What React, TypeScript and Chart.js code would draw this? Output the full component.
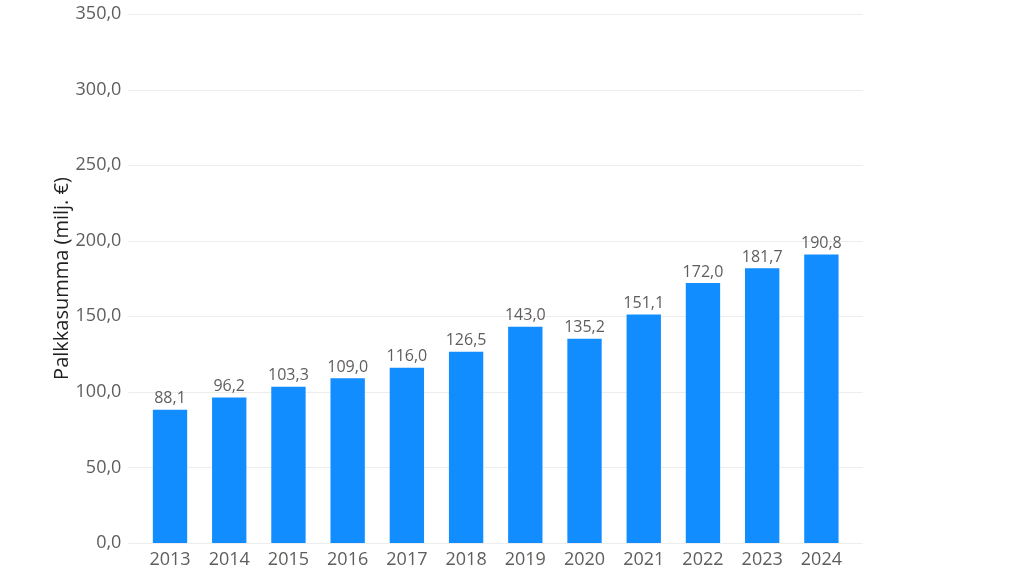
import React, { useEffect, useRef } from "react";
import { Chart, registerables } from "chart.js";

Chart.register(...registerables);

const years = ["2013", "2014", "2015", "2016", "2017", "2018", "2019", "2020", "2021", "2022", "2023", "2024"];
const payroll = [88.1, 96.2, 103.3, 109.0, 116.0, 126.5, 143.0, 135.2, 151.1, 172.0, 181.7, 190.8];
const yTicks = [0, 50, 100, 150, 200, 250, 300, 350];
const yTitle = "Palkkasumma (milj. €)";

const fmt = (v: number) => v.toFixed(1).replace(".", ",");
const FONT = "'Open Sans', 'Noto Sans', sans-serif";

const gridPlugin = {
  id: "extGrid",
  beforeDatasetsDraw(chart: any) {
    const { ctx, chartArea, scales } = chart;
    const y = scales.y;
    ctx.save();
    ctx.strokeStyle = "#EDEDED";
    ctx.lineWidth = 1;
    yTicks.forEach((t) => {
      const py = Math.round(y.getPixelForValue(t)) + 0.5;
      ctx.beginPath();
      ctx.moveTo(chartArea.left - 12, py);
      ctx.lineTo(chartArea.right + 12, py);
      ctx.stroke();
    });
    ctx.restore();
  },
};

const labelPlugin = {
  id: "valueLabels",
  afterDatasetsDraw(chart: any) {
    const { ctx } = chart;
    const meta = chart.getDatasetMeta(0);
    ctx.save();
    ctx.font = `16px ${FONT}`;
    ctx.fillStyle = "#605E5C";
    ctx.textAlign = "center";
    ctx.textBaseline = "bottom";
    meta.data.forEach((el: any, i: number) => {
      ctx.fillText(fmt(payroll[i]), el.x, el.y - 3);
    });
    ctx.restore();
  },
};

export default function App() {
  const ref = useRef<HTMLCanvasElement | null>(null);
  useEffect(() => {
    if (!ref.current) return;
    const chart = new Chart(ref.current, {
      type: "bar",
      data: {
        labels: years,
        datasets: [
          {
            data: payroll,
            backgroundColor: "#118DFF",
            borderWidth: 0,
            barPercentage: 0.58,
            categoryPercentage: 1,
          },
        ],
      },
      options: {
        animation: false,
        responsive: false,
        maintainAspectRatio: false,
        layout: { padding: { top: 14, right: 173, bottom: 0, left: 0 } },
        plugins: {
          legend: { display: false },
          tooltip: { enabled: false },
        },
        scales: {
          x: {
            grid: { display: false },
            border: { display: false },
            ticks: { color: "#605E5C", font: { family: FONT, size: 18 }, padding: -2, maxRotation: 0 },
            afterFit: (s: any) => {
              s.height = 33;
              s.paddingLeft = 0;
              s.paddingRight = 0;
            },
          },
          y: {
            min: 0,
            max: 350,
            afterBuildTicks: (s: any) => {
              s.ticks = yTicks.map((v) => ({ value: v }));
            },
            grid: { display: false },
            border: { display: false },
            ticks: {
              color: "#605E5C",
              font: { family: FONT, size: 18 },
              padding: 11,
              callback: (v: any) => fmt(Number(v)),
            },
            title: {
              display: true,
              text: yTitle,
              color: "#201F1E",
              font: { family: FONT, size: 20 },
              padding: { top: 50, bottom: 0 },
            },
            afterFit: (s: any) => {
              s.width = 140.4;
              s.paddingTop = 0;
              s.paddingBottom = 0;
            },
          },
        },
      },
      plugins: [gridPlugin, labelPlugin],
    });
    return () => chart.destroy();
  }, []);
  return (
    <div style={{ position: "absolute", left: 0, top: 0, width: 1024, height: 576, background: "#fff" }}>
      <canvas ref={ref} width={1024} height={576} style={{ width: 1024, height: 576 }} />
    </div>
  );
}
